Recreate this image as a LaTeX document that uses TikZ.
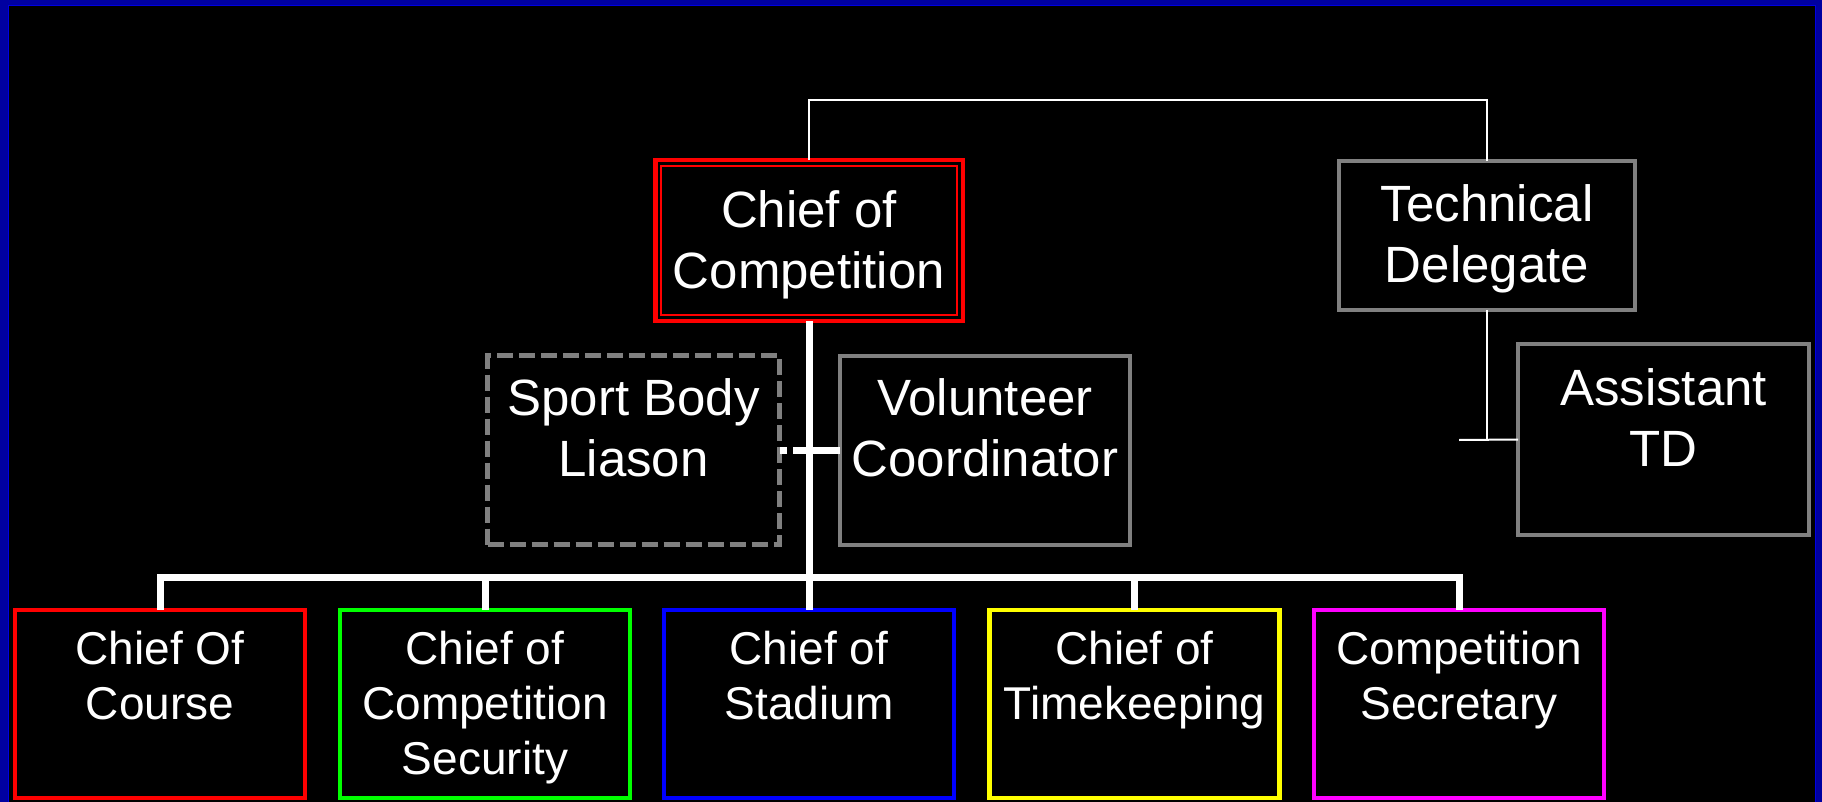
\documentclass[tikz,border=0pt]{standalone}
\usepackage{fontspec}
\setmainfont{Liberation Sans}
\definecolor{frameblue}{RGB}{0,0,160}
\definecolor{framelight}{RGB}{0,0,225}
\definecolor{boxgray}{RGB}{128,128,128}
\definecolor{cred}{RGB}{255,0,0}
\definecolor{cgreen}{RGB}{0,255,0}
\definecolor{cblue}{RGB}{0,0,255}
\definecolor{cyellow}{RGB}{255,255,0}
\definecolor{cmagenta}{RGB}{255,0,255}
\tikzset{
  orgbox/.style={draw=#1, line width=4.5pt, fill=black, rectangle, inner sep=0pt, outer sep=0pt},
  graybox/.style={draw=boxgray, line width=4pt, fill=black, rectangle, inner sep=0pt, outer sep=0pt},
  dashbox/.style={draw=boxgray, line width=5pt, fill=black, rectangle, inner sep=0pt, outer sep=0pt, dash pattern=on 16pt off 6pt},
  bigtxt/.style={text=white, align=center, inner sep=0pt, font=\fontsize{51}{61}\selectfont},
  smalltxt/.style={text=white, align=center, inner sep=0pt, font=\fontsize{46}{55}\selectfont},
  thinconn/.style={draw=white, line width=2pt},
  thickconn/.style={draw=white, line width=7pt},
  dashconn/.style={draw=white, line width=7pt, dash pattern=on 16pt off 6pt},
}
\begin{document}
\begin{tikzpicture}[x=1pt,y=-1pt]
\useasboundingbox (0,0) rectangle (1822,802);
\fill[frameblue] (0,0) rectangle (1822,802);
\fill[black] (8,5) rectangle (1816,802);
\draw[framelight, line width=1.2pt] (8.6,802) -- (8.6,5.6) -- (1815.4,5.6) -- (1815.4,802);

% top level
\node[orgbox=cred, minimum width=307.5pt, minimum height=160.5pt] (cc) at (809,240.5) {};
\draw[cred, line width=2pt] ([shift={(6,6)}]cc.north west) rectangle ([shift={(-6,-6)}]cc.south east);
\node[graybox, minimum width=296pt, minimum height=149pt] (td) at (1487,235.5) {};

% middle
\node[dashbox, minimum width=292pt, minimum height=189pt] (sb) at (633.5,450) {};
\node[graybox, minimum width=290pt, minimum height=189pt] (vc) at (985,450) {};
\node[graybox, minimum width=291pt, minimum height=191pt] (atd) at (1663.5,439.5) {};

% bottom
\node[orgbox=cred, minimum width=290pt, minimum height=188pt, anchor=north] (b1) at (160,610) {};
\node[orgbox=cgreen, minimum width=290pt, minimum height=188pt, anchor=north] (b2) at (485,610) {};
\node[orgbox=cblue, minimum width=290pt, minimum height=188pt, anchor=north] (b3) at (809,610) {};
\node[orgbox=cyellow, minimum width=290pt, minimum height=188pt, anchor=north] (b4) at (1134.5,610) {};
\node[orgbox=cmagenta, minimum width=290pt, minimum height=188pt, anchor=north] (b5) at (1459,610) {};

% texts (base anchor = baseline of the last line)
\node[bigtxt, anchor=base] (cct) at (809,288) {Chief of\\Competition};
\node[bigtxt, anchor=base] (tdt) at (1487,283) {Technical\\Delegate};
\node[bigtxt, anchor=base] (sbt) at (633.5,476) {Sport Body\\Liason};
\node[bigtxt, anchor=base] (vct) at (985,476) {Volunteer\\Coordinator};
\node[bigtxt, anchor=base] (atdt) at (1663.5,466) {Assistant\\TD};
\node[smalltxt, anchor=base] (b1t) at (160,719) {Chief Of\\Course};
\node[smalltxt, anchor=base] (b2t) at (485,774) {Chief of\\Competition\\Security};
\node[smalltxt, anchor=base] (b3t) at (809,719) {Chief of\\Stadium};
\node[smalltxt, anchor=base] (b4t) at (1134.5,719) {Chief of\\Timekeeping};
\node[smalltxt, anchor=base] (b5t) at (1459,719) {Competition\\Secretary};

% connectors
\coordinate (top) at (809,100);
\coordinate (bus) at (809,577);
\coordinate (mid) at (809,450);
\coordinate (tdl) at (1459,440);
\draw[thinconn] (cc.north) -- (top) -| (td.north);
\draw[thinconn] (td.south) -- (td.south |- atd.west);
\draw[thinconn] (tdl) -- (atd.west);
\draw[thickconn] (cc.south) -- (b3.north);
\draw[thickconn, line join=miter] (b1.north) |- (bus) -| (b5.north);
\draw[thickconn] (b2.north) -- (b2.north |- bus);
\draw[thickconn] (b4.north) -- (b4.north |- bus);
\draw[thickconn] (mid) -- (vc.west);
\draw[dashconn] (mid) -- (sb.east);
\end{tikzpicture}
\end{document}
